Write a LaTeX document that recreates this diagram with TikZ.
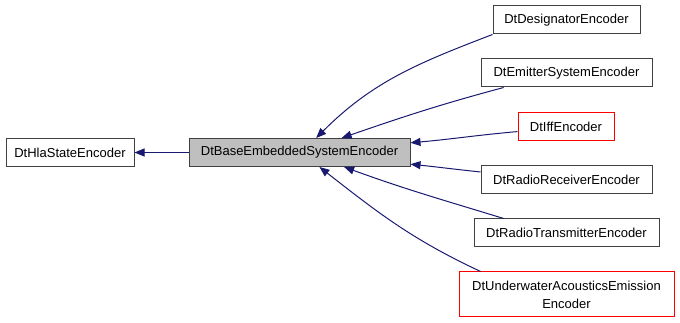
\documentclass[tikz,border=0pt]{standalone}
\usepackage{fontspec}
\setmainfont{Liberation Sans}
\usetikzlibrary{arrows.meta}
\definecolor{edgeblue}{RGB}{25,25,112}
\definecolor{basegray}{RGB}{191,191,191}
\definecolor{framegray}{RGB}{64,64,64}

\begin{document}
\begin{tikzpicture}[x=1pt, y=1pt,
    cls/.style={rectangle, draw=framegray, line width=1pt, minimum height=28pt, inner sep=0pt, font=\fontsize{13}{18}\selectfont},
    undoc/.style={cls, draw=red},
    link/.style={draw=edgeblue, line width=1pt, -{Triangle[length=10pt, width=8pt]}}
]
\useasboundingbox (0,0) rectangle (680,323);

% Base classes (middle row)
\node[cls, minimum width=128pt] (Hla) at (70, 170.5) {DtHlaStateEncoder};
\node[cls, minimum width=221pt, fill=basegray] (Base) at (299.5, 170.5) {DtBaseEmbeddedSystemEncoder};

% Derived classes (right column)
\node[cls, minimum width=147pt] (Desig) at (566.5, 303) {DtDesignatorEncoder};
\node[cls, minimum width=171pt] (Emitter) at (566.5, 250) {DtEmitterSystemEncoder};
\node[undoc, minimum width=96pt] (Iff) at (566, 196.5) {DtIffEncoder};
\node[cls, minimum width=171pt] (Receiver) at (566.5, 143.5) {DtRadioReceiverEncoder};
\node[cls, minimum width=185pt] (Transmitter) at (566.5, 90) {DtRadioTransmitterEncoder};
\node[undoc, minimum width=215pt, minimum height=45pt, align=center] (Underwater) at (566.5, 28.5) {DtUnderwaterAcousticsEmission\\Encoder};

% Inheritance edges
\path (Base) edge[link] (Hla);
\path (Desig.south west) edge[link, out=201, in=45] (Base.41);
\path (Emitter.193) edge[link, out=195, in=19] (Base.19);
\path (Iff.186) edge[link, out=185, in=5] (Base.5);
\path (Receiver.175) edge[link, out=174, in=-6] (Base.-6);
\path (Transmitter.167) edge[link, out=163, in=-20] (Base.-18);
\path (Underwater.165) edge[link, out=155, in=-38] (Base.-36);

\end{tikzpicture}
\end{document}
